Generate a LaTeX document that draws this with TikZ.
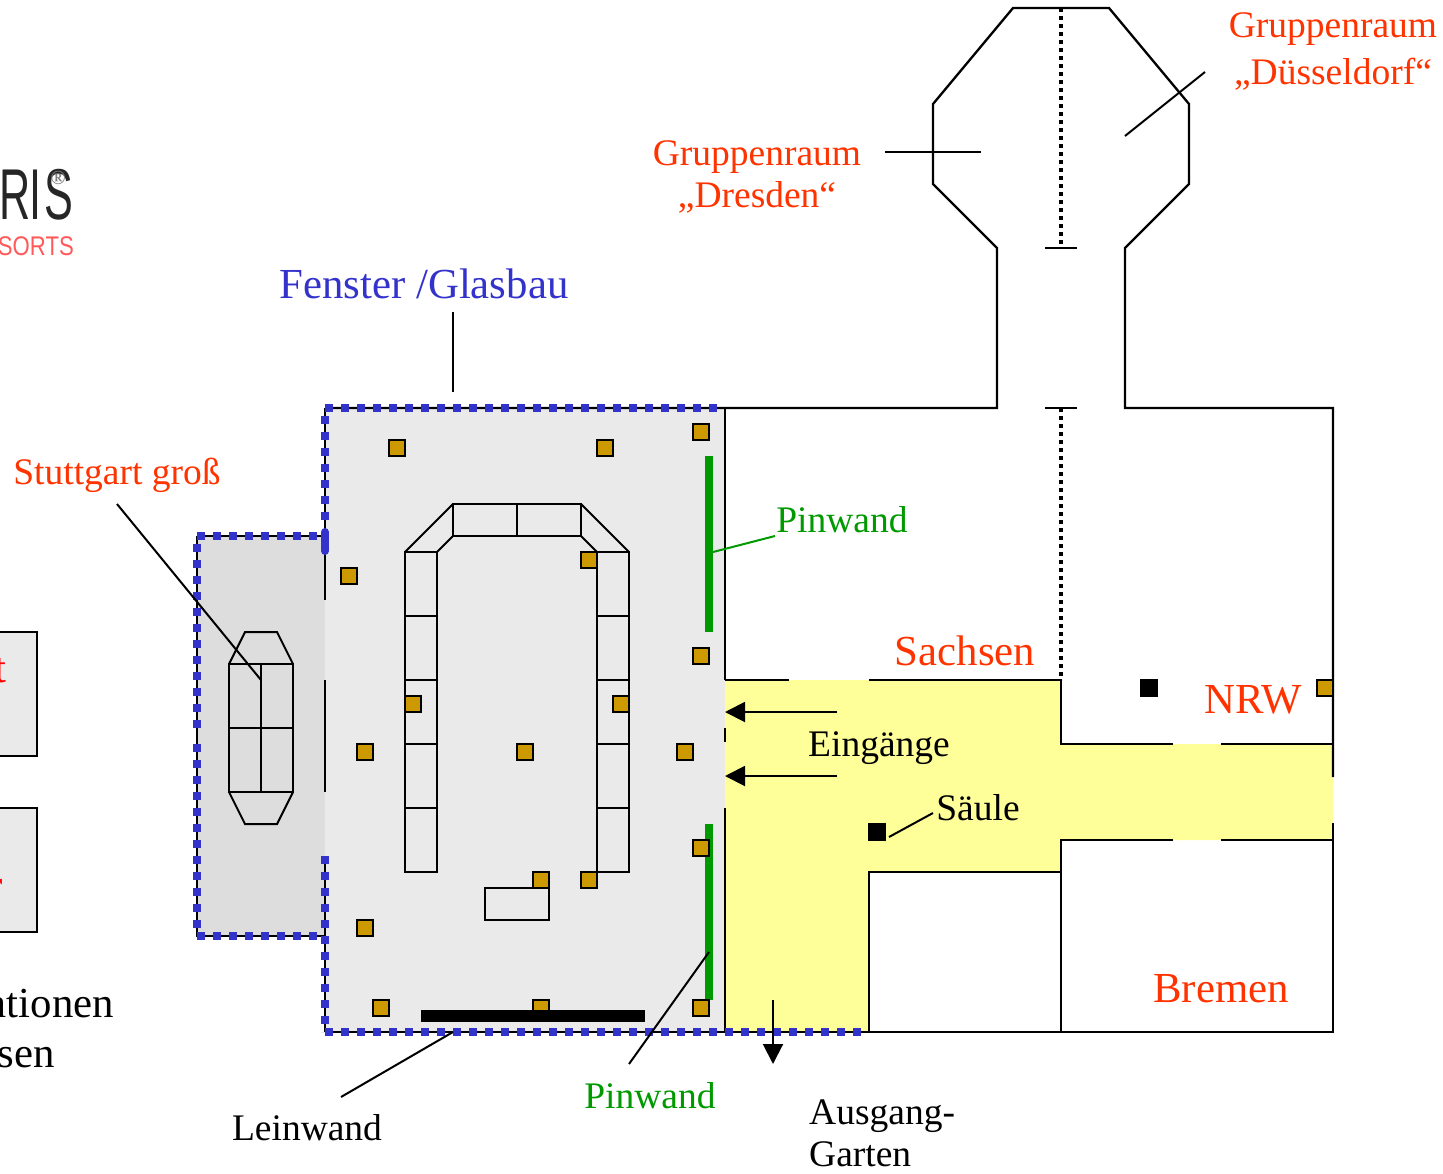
\documentclass[tikz,border=0pt]{standalone}
\usepackage{fontspec}
\setmainfont{Liberation Serif}
\newfontfamily\logofont{Liberation Sans}
\usetikzlibrary{arrows.meta}
\definecolor{myred}{HTML}{FF3300}
\definecolor{myblue}{HTML}{3333CC}
\definecolor{mygreen}{HTML}{009900}
\definecolor{mygold}{HTML}{CC9900}
\definecolor{myyellow}{HTML}{FFFF99}
\definecolor{mygrey}{HTML}{EAEAEA}
\definecolor{mydark}{HTML}{DDDDDD}
\tikzset{%
  mywall/.style={draw=black, line width=2.3pt},
  myline/.style={draw=black, line width=2pt},
  myedge/.style={-{Triangle[length=20pt, width=20pt]}, draw=black, line width=2pt},
  myglass/.style={draw=myblue, line width=8pt, dash pattern=on 8pt off 8pt},
  mydots/.style={draw=black, line width=4pt, dash pattern=on 4pt off 4pt},
  mypost/.style={rectangle, draw=black, line width=2pt, fill=mygold, minimum size=16pt, inner sep=0pt},
  mypillar/.style={rectangle, fill=black, minimum size=18pt, inner sep=0pt},
  mytext/.style={font=\fontsize{37.5}{42}\selectfont, inner sep=0pt, align=center},
  mybig/.style={font=\fontsize{42.8}{46}\selectfont, inner sep=0pt, align=center}
}
\begin{document}
\begin{tikzpicture}[x=1pt, y=-1pt]
  \useasboundingbox (0,0) rectangle (1443,1173);
  \clip (0,0) rectangle (1443,1173);
  % floors
  \fill [mygrey] (325,408) rectangle (725,1032);
  \fill [mydark] (197,536) rectangle (325,936);
  \fill [myyellow] (725,680) -- (1061,680) -- (1061,744) -- (1333,744) -- (1333,840)
    -- (1061,840) -- (1061,872) -- (869,872) -- (869,1032) -- (725,1032) -- cycle;
  % cut off boxes and logo at the left edge
  \draw [mywall, fill=mygrey] (-5,632) rectangle (37,756);
  \draw [mywall, fill=mygrey] (-5,808) rectangle (37,932);
  \node [anchor=base east, inner sep=0pt, text=black!85, font=\logofont\fontsize{72}{72}\selectfont] (logo) at (74,219) {\scalebox{0.6}[1]{R\kern-2pt I\kern6pt S}};
  \node [inner sep=0pt, text=black!50, font=\bfseries\fontsize{20}{20}\selectfont] (logomark) at (58,178) {®};
  \node [anchor=base east, inner sep=0pt, text=red!65, font=\logofont\fontsize{27}{27}\selectfont] (resorts) at (74,255) {\scalebox{0.82}[1]{SORTS}};
  % walls
  \draw [mywall] (325,408) -- (997,408) -- (997,248) -- (933,184) -- (933,104) -- (1013,8)
    -- (1109,8) -- (1189,104) -- (1189,184) -- (1125,248) -- (1125,408) -- (1333,408) -- (1333,777);
  \draw [mywall] (1333,823) -- (1333,1032) -- (869,1032);
  \draw [mywall] (325,1032) -- (869,1032);
  \draw [mywall] (325,408) -- (325,600);
  \draw [mywall] (325,680) -- (325,792);
  \draw [mywall] (325,857) -- (325,1032);
  \draw [mywall] (197,536) -- (325,536);
  \draw [mywall] (197,536) -- (197,936) -- (325,936);
  \draw [mywall] (725,408) -- (725,680);
  \draw [mywall] (725,728) -- (725,742);
  \draw [mywall] (725,808) -- (725,1032);
  \draw [mywall] (725,680) -- (789,680);
  \draw [mywall] (869,680) -- (1061,680) -- (1061,744) -- (1173,744);
  \draw [mywall] (1221,744) -- (1333,744);
  \draw [mywall] (1173,840) -- (1061,840) -- (1061,1032);
  \draw [mywall] (1221,840) -- (1333,840);
  \draw [mywall] (869,1032) -- (869,872) -- (1061,872);
  \draw [mywall] (1045,248) -- (1077,248);
  \draw [mywall] (1045,408) -- (1077,408);
  \draw [mydots] (1061,8) -- (1061,248);
  \draw [mydots] (1061,408) -- (1061,680);
  % tables
  \foreach \x in {405,597} {
    \draw [myline] (\x,552) rectangle ++(32,320);
    \foreach \y in {616,680,744,808}
      \draw [myline] (\x,\y) -- ++(32,0);
  }
  \draw [myline] (453,504) rectangle (581,536);
  \draw [myline] (517,504) -- (517,536);
  \draw [myline] (405,552) -- (453,504) (437,552) -- (453,536);
  \draw [myline] (629,552) -- (581,504) (597,552) -- (581,536);
  \draw [myline] (485,888) rectangle (549,920);
  \draw [myline] (229,664) rectangle (293,792);
  \draw [myline] (261,664) -- (261,792) (229,728) -- (293,728);
  \draw [myline] (229,664) -- (245,632) -- (277,632) -- (293,664);
  \draw [myline] (229,792) -- (245,824) -- (277,824) -- (293,792);
  % pinboards
  \fill [mygreen] (705,456) rectangle (713,632);
  \fill [mygreen] (705,824) rectangle (713,1000);
  % posts
  \foreach \x/\y in {397/448, 605/448, 701/432, 349/576, 589/560, 701/656, 413/704, 621/704, 365/752,
    525/752, 685/752, 701/848, 541/880, 589/880, 365/928, 381/1008, 541/1008, 701/1008, 1325/688}
    \node [mypost] (p\x-\y) at (\x,\y) {};
  \node [mypillar] (pillarA) at (1149,688) {};
  \node [mypillar] (pillarB) at (877,832) {};
  \fill (421,1010) rectangle (645,1022);
  % glass
  \draw [myglass] (325,408) -- (717,408);
  \draw [myglass] (325,416) -- (325,520);
  \draw [myblue, line width=8pt, line cap=round] (325,532) -- (325,551);
  \draw [myglass] (197,536) -- (321,536);
  \draw [myglass] (197,544) -- (197,728);
  \draw [myglass] (197,744) -- (197,928);
  \draw [myglass] (197,936) -- (317,936);
  \draw [myglass] (325,856) -- (325,1032);
  \draw [myglass] (325,1032) -- (861,1032);
  % labels
  \node [mytext, text=myred] (duesseldorf) at (1333,51.5) {Gruppenraum\\[5pt]„Düsseldorf“};
  \node [mytext, text=myred] (dresden) at (757,176.5) {Gruppenraum\\„Dresden“};
  \node [text=myblue, inner sep=0pt, font=\fontsize{42.8}{50}\selectfont] (fenster) at (424,284) {Fenster /Glasbau};
  \node [mytext, text=myred] (stuttgart) at (117,475) {Stuttgart groß};
  \node [mytext, text=mygreen] (pinwandA) at (842,520) {Pinwand};
  \node [mytext, text=mygreen] (pinwandB) at (650,1096) {Pinwand};
  \node [mybig, text=myred] (sachsen) at (965,651) {Sachsen};
  \node [mybig, text=myred] (nrw) at (1253,700) {NRW};
  \node [mybig, text=myred] (bremen) at (1221,989) {Bremen};
  \node [mytext] (eingaenge) at (879,748) {Eingänge};
  \node [mytext] (saeule) at (978,808) {Säule};
  \node [mytext] (leinwand) at (307,1128) {Leinwand};
  \node [mytext, align=left, anchor=north west] (ausgang) at (809,1100) {Ausgang-\\Garten};
  \node [mybig, anchor=base east, text=red] (stub1) at (7,682) {t};
  \node [mybig, anchor=base east, text=red] (stub2) at (3,899) {r};
  \node [mybig, anchor=base east] (stub3) at (114,1017) {ationen};
  \node [mybig, anchor=base east] (stub4) at (55,1067) {sen};
  % leader ends
  \coordinate (X1) at (885,152);
  \coordinate (X2) at (981,152);
  \coordinate (X3) at (1205,72);
  \coordinate (X4) at (1125,136);
  \coordinate (X5) at (453,312);
  \coordinate (X6) at (453,392);
  \coordinate (X7) at (117,504);
  \coordinate (X8) at (261,680);
  \coordinate (X9) at (775,536);
  \coordinate (X10) at (713,552);
  \coordinate (X11) at (629,1064);
  \coordinate (X12) at (709,952);
  \coordinate (X13) at (341,1097);
  \coordinate (X14) at (453,1032);
  \coordinate (X15) at (933,813);
  \coordinate (X16) at (889,837);
  \coordinate (X17) at (837,712);
  \coordinate (X18) at (725,712);
  \coordinate (X19) at (837,776);
  \coordinate (X20) at (725,776);
  \coordinate (X21) at (773,1000);
  \coordinate (X22) at (773,1064);
  \draw [myline] (X1) -- (X2);
  \draw [myline] (X3) -- (X4);
  \draw [myline] (X5) -- (X6);
  \draw [myline] (X7) -- (X8);
  \draw [myline, draw=mygreen] (X9) -- (X10);
  \draw [myline] (X11) -- (X12);
  \draw [myline] (X13) -- (X14);
  \draw [myline] (X15) -- (X16);
  \draw [myedge] (X17) -- (X18);
  \draw [myedge] (X19) -- (X20);
  \draw [myedge] (X21) -- (X22);
\end{tikzpicture}
\end{document}
